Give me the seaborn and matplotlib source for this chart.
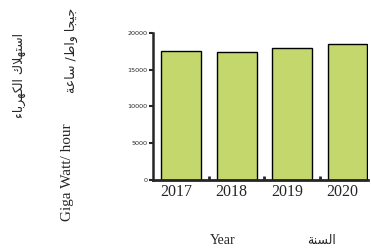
import matplotlib
matplotlib.use("Agg")
import matplotlib.pyplot as plt
import matplotlib.transforms as mtransforms
import seaborn as sns

# data
years = ['2017', '2018', '2019', '2020']
consumption = [17500, 17400, 17950, 18450]
yticks = [0, 5000, 10000, 15000, 20000]

title_ar = 'استهلاك الكهرباء'
unit_ar = 'جيجا واط/ ساعة'
unit_en = 'Giga Watt/ hour'
xlabel_en = 'Year'
xlabel_ar = 'السنة'

# contextual forms: (isolated, final, initial, medial); None = does not join forward
FORMS = {
    'ء': (0xFE80, None, None, None),
    'ا': (0xFE8D, 0xFE8E, None, None),
    'ب': (0xFE8F, 0xFE90, 0xFE91, 0xFE92),
    'ة': (0xFE93, 0xFE94, None, None),
    'ت': (0xFE95, 0xFE96, 0xFE97, 0xFE98),
    'ج': (0xFE9D, 0xFE9E, 0xFE9F, 0xFEA0),
    'ر': (0xFEAD, 0xFEAE, None, None),
    'س': (0xFEB1, 0xFEB2, 0xFEB3, 0xFEB4),
    'ط': (0xFEC1, 0xFEC2, 0xFEC3, 0xFEC4),
    'ع': (0xFEC9, 0xFECA, 0xFECB, 0xFECC),
    'ك': (0xFED9, 0xFEDA, 0xFEDB, 0xFEDC),
    'ل': (0xFEDD, 0xFEDE, 0xFEDF, 0xFEE0),
    'ن': (0xFEE5, 0xFEE6, 0xFEE7, 0xFEE8),
    'ه': (0xFEE9, 0xFEEA, 0xFEEB, 0xFEEC),
    'و': (0xFEED, 0xFEEE, None, None),
    'ي': (0xFEF1, 0xFEF2, 0xFEF3, 0xFEF4),
}


def joins_forward(ch):
    return ch in FORMS and FORMS[ch][2] is not None


def joins_back(ch):
    return ch in FORMS and FORMS[ch][1] is not None


def shape(text):
    out = []
    i = 0
    while i < len(text):
        ch = text[i]
        prev = text[i - 1] if i > 0 else ''
        p = joins_forward(prev)
        if ch == 'ل' and i + 1 < len(text) and text[i + 1] == 'ا':
            out.append(chr(0xFEFC if p else 0xFEFB))
            i += 2
            continue
        if ch not in FORMS:
            out.append(ch)
            i += 1
            continue
        nxt = text[i + 1] if i + 1 < len(text) else ''
        n = joins_forward(ch) and joins_back(nxt)
        iso, fin, ini, med = FORMS[ch]
        if p and n:
            cp = med
        elif p and fin is not None:
            cp = fin
        elif n:
            cp = ini
        else:
            cp = iso
        out.append(chr(cp))
        i += 1
    return ''.join(reversed(out))


sns.set_style('ticks')
serif = ['Liberation Serif', 'DejaVu Serif']
arabic = ['DejaVu Sans']

fig = plt.figure(figsize=(3.71, 2.48), dpi=100)
ax = fig.add_axes([0.412, 0.274, 0.580, 0.594])

sns.barplot(x=years, y=consumption, color='#c4d76c', saturation=1,
            edgecolor='black', linewidth=1.0, width=0.72, ax=ax)

ax.set_xlim(-0.51, 3.37)
ax.set_ylim(0, 20000)
ax.set_yticks(yticks)
ax.set_yticklabels([str(v) for v in yticks], fontsize=4.6, family='DejaVu Sans')
ax.tick_params(axis='y', length=3, width=1.5, pad=1, direction='out')

# year labels at bar centres, between-bar ticks pointing up
ax.set_xticks([0.5, 1.5, 2.5])
ax.set_xticklabels([])
ax.tick_params(axis='x', which='major', length=3, width=2, direction='in')
ax.set_xticks(range(len(years)), minor=True)
ax.set_xticklabels(years, minor=True, fontsize=11.5, family=serif)
ax.tick_params(axis='x', which='minor', length=0, pad=3)
shift = mtransforms.ScaledTranslation(-5 / 100, 0, fig.dpi_scale_trans)
for lab in ax.get_xticklabels(minor=True):
    lab.set_transform(lab.get_transform() + shift)

ax.set_xlabel('')
ax.set_ylabel('')
sns.despine(ax=ax)
ax.spines['left'].set_linewidth(1.8)
ax.spines['bottom'].set_linewidth(2.0)

fig.text(19 / 371, 1 - 75 / 248, shape(title_ar), rotation=90,
         ha='center', va='center', fontsize=9, family=arabic)
fig.text(71 / 371, 1 - 50 / 248, shape(unit_ar), rotation=90,
         ha='center', va='center', fontsize=9, family=arabic)
fig.text(67 / 371, 1 - 172 / 248, unit_en, rotation=90,
         ha='center', va='center', fontsize=11, family=serif)
fig.text(223 / 371, 1 - 240 / 248, xlabel_en,
         ha='center', va='center', fontsize=10, family=serif)
fig.text(321 / 371, 1 - 240 / 248, shape(xlabel_ar),
         ha='center', va='center', fontsize=9, family=arabic)

fig.savefig('out.png', dpi=100)
